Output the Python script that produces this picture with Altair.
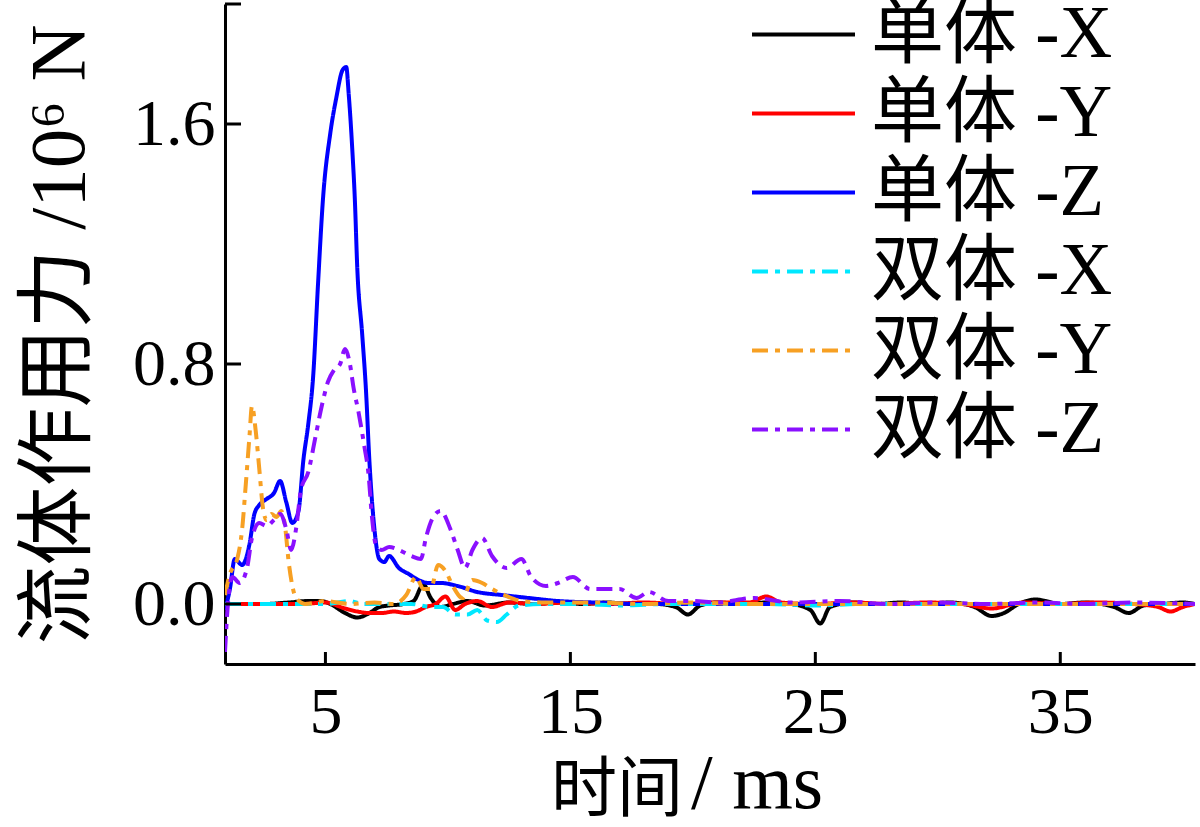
import altair as alt
import pandas as pd

# Series names (legend order) and colours
series_names = ["单体 -X", "单体 -Y", "单体 -Z", "双体 -X", "双体 -Y", "双体 -Z"]
series_colors = ["#000000", "#ff0000", "#0000ff", "#00e8ff", "#f7a023", "#8a10ff"]
series_dash = [[1, 0], [1, 0], [1, 0], [16, 7, 5, 7], [16, 7, 5, 7], [16, 7, 5, 7]]

# 单体 -X
t_sx = [0.9, 1.5, 2.5, 3.5, 4.3, 4.8, 5.2, 5.8, 6.3, 6.8, 7.2, 7.6, 8.2, 8.6, 9.0, 9.3, 9.7,
        10.2, 10.8, 11.5, 12.5, 13.5, 14.5, 15.5, 16.5, 17.5, 18.5, 19.3, 19.8, 20.3, 21, 22,
        23, 24, 24.8, 25.2, 25.6, 26.5, 27.5, 28.5, 29.5, 30.5, 31.5, 32.2, 32.7, 33.3, 34.0,
        34.4, 35, 36, 37.2, 37.8, 38.4, 39.2, 40.0, 40.5]
v_sx = [0.0, 0.0, 0.0, 0.005, 0.01, 0.01, 0.0, -0.03, -0.045, -0.03, -0.01, -0.005, 0.0,
        0.01, 0.065, 0.02, -0.01, 0.0, 0.01, -0.005, 0.005, 0.0, 0.005, 0.0, 0.005, 0.0, 0.0,
        -0.01, -0.035, -0.005, 0.005, 0.0, 0.005, 0.0, -0.02, -0.065, -0.01, 0.005, 0.0,
        0.005, 0.0, 0.005, -0.01, -0.04, -0.03, 0.0, 0.015, 0.01, 0.0, 0.005, -0.01, -0.03,
        -0.005, 0.0, 0.005, 0.0]

# 单体 -Y
t_sy = [0.9, 2, 3, 4, 5, 5.8, 6.3, 6.8, 7.3, 7.8, 8.3, 8.7, 9.1, 9.5, 9.9, 10.3, 10.7, 11.2,
        11.8, 12.5, 13.5, 15, 16.5, 18, 19.5, 21, 22.3, 23.0, 23.6, 25, 26.5, 28, 29.5, 31,
        32.2, 33.5, 35, 36.5, 38, 39.0, 39.5, 40.0, 40.5]
v_sy = [0, 0, 0, 0.0, 0.005, -0.015, -0.025, -0.03, -0.03, -0.025, -0.03, -0.025, -0.01,
        0.0, 0.025, -0.02, 0.0, 0.01, -0.01, 0.005, 0, 0.005, 0, 0.005, 0, 0.005, 0.005,
        0.025, 0.005, 0, 0.005, 0, 0.005, 0, -0.015, 0.005, 0, 0.005, 0, -0.01, -0.025,
        -0.01, 0]

# 单体 -Z
t_sz = [0.9, 1.1, 1.3, 1.6, 1.9, 2.1, 2.3, 2.6, 2.9, 3.15, 3.4, 3.65, 3.9, 4.1, 4.3, 4.5,
        4.7, 4.9, 5.2, 5.45, 5.7, 5.85, 5.95, 6.1, 6.2, 6.3, 6.5, 6.65, 6.8, 7.0, 7.2, 7.4,
        7.6, 8.0, 8.4, 8.8, 9.2, 9.7, 10.4, 11.2, 12.2, 13.3, 14.5, 16, 18, 20, 25, 30, 35,
        40.5]
v_sz = [-0.02, 0.05, 0.15, 0.13, 0.2, 0.3, 0.33, 0.35, 0.37, 0.41, 0.34, 0.27, 0.31, 0.48,
        0.6, 0.76, 1.07, 1.35, 1.57, 1.69, 1.78, 1.79, 1.70, 1.51, 1.35, 1.12, 0.90, 0.72,
        0.47, 0.25, 0.15, 0.14, 0.16, 0.12, 0.1, 0.08, 0.07, 0.07, 0.06, 0.04, 0.03, 0.02,
        0.01, 0.005, 0, 0, 0, 0, 0, 0]

# 双体 -X
t_dx = [0.9, 3, 5, 6, 6.5, 7.5, 8.5, 9.3, 9.8, 10.3, 10.8, 11.2, 11.6, 12.0, 12.4, 12.9, 14,
        15.5, 17, 19, 21, 23, 25, 27, 29, 31, 33, 35, 37, 39, 40.5]
v_dx = [0, 0, 0, 0.01, 0.0, 0.0, 0.0, -0.01, -0.01, -0.035, -0.035, -0.02, -0.055, -0.06,
        -0.035, -0.005, 0, 0, -0.005, 0, 0, 0, -0.005, 0, 0, 0, 0, 0, 0, 0, 0]

# 双体 -Y
t_dy = [0.9, 1.1, 1.4, 1.6, 1.75, 1.9, 2.0, 2.15, 2.3, 2.45, 2.6, 2.8, 3.0, 3.2, 3.35, 3.5,
        3.65, 3.8, 4.2, 5, 6, 7, 7.8, 8.3, 8.7, 9.0, 9.3, 9.6, 9.9, 10.2, 10.6, 11.0, 11.4,
        11.8, 12.3, 13, 14, 16, 18, 20, 22, 25, 28, 31, 34, 37, 40.5]
v_dy = [0.03, 0.1, 0.15, 0.25, 0.40, 0.56, 0.66, 0.58, 0.45, 0.32, 0.28, 0.30, 0.29, 0.31,
        0.26, 0.14, 0.06, 0.02, 0.0, 0.01, 0.0, 0.005, 0.0, 0.03, 0.09, 0.05, 0.05, 0.13,
        0.11, 0.06, 0.02, 0.08, 0.07, 0.05, 0.03, 0.01, 0.005, 0.005, 0, 0.005, 0, 0, 0, 0,
        0, 0, 0]

# 双体 -Z
t_dz = [0.9, 1.0, 1.2, 1.5, 1.8, 2.0, 2.3, 2.6, 2.9, 3.15, 3.4, 3.6, 3.8, 4.0, 4.3, 4.6,
        4.85, 5.1, 5.35, 5.6, 5.8, 6.0, 6.15, 6.35, 6.6, 6.75, 6.9, 7.05, 7.3, 7.6, 8.0, 8.5,
        8.9, 9.1, 9.4, 9.7, 10.1, 10.4, 10.7, 11.0, 11.4, 11.8, 12.4, 13.0, 13.4, 14.0, 14.5,
        15.1, 15.8, 16.3, 17.0, 17.7, 18.2, 19, 20, 21, 22.5, 24, 26, 28, 30, 32, 34, 36, 38,
        40.5]
v_dz = [-0.16, -0.02, 0.09, 0.07, 0.12, 0.22, 0.27, 0.26, 0.28, 0.30, 0.25, 0.18, 0.25,
        0.38, 0.44, 0.56, 0.66, 0.74, 0.78, 0.80, 0.85, 0.80, 0.72, 0.64, 0.52, 0.44, 0.29,
        0.20, 0.18, 0.19, 0.18, 0.16, 0.15, 0.22, 0.29, 0.31, 0.25, 0.18, 0.12, 0.18, 0.22,
        0.16, 0.12, 0.15, 0.09, 0.06, 0.07, 0.09, 0.05, 0.05, 0.05, 0.02, 0.04, 0.01, 0.01,
        0.005, 0.02, 0.005, 0.01, 0, 0.005, 0, 0.005, 0, 0.005, 0]

# Axis ticks and titles
x_ticks = [5, 15, 25, 35]
y_ticks = [0.0, 0.8, 1.6, 2.0]
x_title_cjk = "时间"
x_title_unit = "/ ms"
y_title = "流体作用力 /10⁶ N"

series_t = [t_sx, t_sy, t_sz, t_dx, t_dy, t_dz]
series_v = [v_sx, v_sy, v_sz, v_dx, v_dy, v_dz]

rows = []
for order, (name, ts, vs) in enumerate(zip(series_names, series_t, series_v)):
    for t, v in zip(ts, vs):
        rows.append({"series": name, "order": order, "t": t, "v": v})
df = pd.DataFrame(rows)

FONT = "Liberation Serif, Noto Sans CJK SC"
X_DOMAIN = [0.9, 40.5]
Y_DOMAIN = [-0.2, 2.0]

x_scale = alt.Scale(domain=X_DOMAIN, nice=False, zero=False)
y_scale = alt.Scale(domain=Y_DOMAIN, nice=False, zero=False)

lines = alt.Chart(df).mark_line(strokeWidth=4, clip=True, interpolate="monotone").encode(
    x=alt.X("t:Q", scale=x_scale,
            axis=alt.Axis(values=x_ticks, title=None, grid=False, tickSize=0,
                          labelFont=FONT, labelFontSize=66, labelColor="black",
                          labelPadding=16, domainColor="black", domainWidth=3)),
    y=alt.Y("v:Q", scale=y_scale,
            axis=alt.Axis(values=y_ticks, grid=False, tickSize=0,
                          labelExpr="datum.value >= 2 ? '' : format(datum.value, '.1f')",
                          title=y_title,
                          labelFont=FONT, labelFontSize=66, labelColor="black",
                          labelPadding=10, domainColor="black", domainWidth=3,
                          titleFont=FONT, titleFontSize=79, titleFontWeight="normal",
                          titleColor="black", titleX=-166, titleY=330, titleAngle=270,
                          titleBaseline="middle", titleAlign="center")),
    color=alt.Color("series:N", sort=series_names,
                    scale=alt.Scale(domain=series_names, range=series_colors),
                    legend=alt.Legend(title=None)),
    strokeDash=alt.StrokeDash("series:N", sort=series_names,
                              scale=alt.Scale(domain=series_names, range=series_dash),
                              legend=alt.Legend(title=None)),
    order=alt.Order("order:Q"),
)

tick_x_df = pd.DataFrame({"t": x_ticks})
tick_y_df = pd.DataFrame({"v": y_ticks})

xticks = alt.Chart(tick_x_df).mark_rule(color="black", strokeWidth=3).encode(
    x=alt.X("t:Q", scale=x_scale),
    y=alt.value(648), y2=alt.value(660),
)
yticks = alt.Chart(tick_y_df).mark_rule(color="black", strokeWidth=3).encode(
    y=alt.Y("v:Q", scale=y_scale),
    x=alt.value(0), x2=alt.value(16),
)

# x-axis title: CJK part and unit part set at their own sizes
title_df = pd.DataFrame({"cjk": [x_title_cjk], "unit": [x_title_unit]})
xt_cjk = alt.Chart(title_df).mark_text(
    font=FONT, fontSize=66, color="black", align="center", baseline="middle"
).encode(text="cjk:N", x=alt.value(392), y=alt.value(787))
xt_unit = alt.Chart(title_df).mark_text(
    font=FONT, fontSize=78, color="black", align="left", baseline="alphabetic"
).encode(text="unit:N", x=alt.value(466), y=alt.value(804))

chart = alt.layer(lines, xticks, yticks, xt_cjk, xt_unit).properties(
    width=970, height=660,
    autosize=alt.AutoSizeParams(type="none"),
    padding={"left": 225, "top": 4, "right": 5, "bottom": 163},
    background="white",
).configure_view(stroke=None).configure_legend(
    orient="none", legendX=525, legendY=-9,
    symbolType="stroke", symbolSize=10600, symbolStrokeWidth=4,
    clipHeight=79, rowPadding=0, labelOffset=14,
    labelFont=FONT, labelFontSize=73, labelColor="black", labelLimit=400,
)

chart.save("out.html", embed_options={"renderer": "svg", "actions": False})
